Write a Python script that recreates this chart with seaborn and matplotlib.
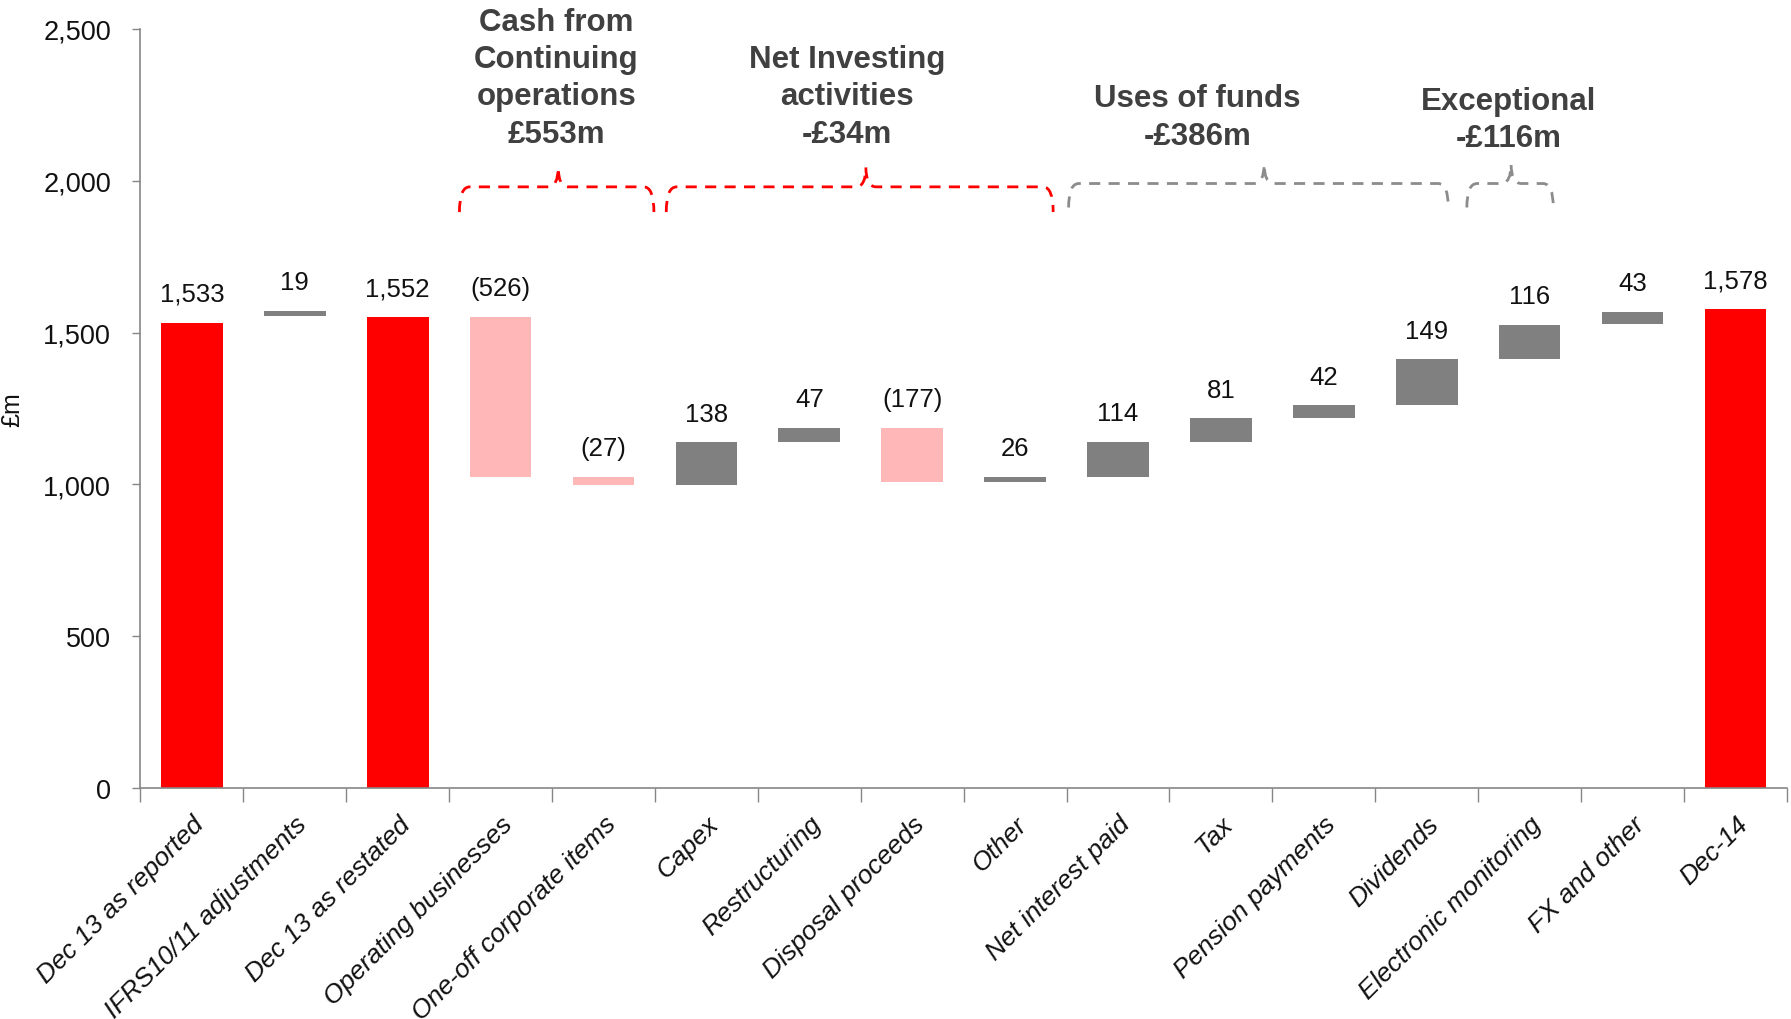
import numpy as np
import pandas as pd
import matplotlib
matplotlib.use("Agg")
import matplotlib.pyplot as plt
from matplotlib.path import Path
from matplotlib.patches import PathPatch
import seaborn as sns

sns.set_theme(style="white")
plt.rcParams['font.family'] = ['Liberation Sans', 'DejaVu Sans']

# --- data (£m) ---
categories = [
    "Dec 13 as reported", "IFRS10/11 adjustments", "Dec 13 as restated",
    "Operating businesses", "One-off corporate items", "Capex", "Restructuring",
    "Disposal proceeds", "Other", "Net interest paid", "Tax", "Pension payments",
    "Dividends", "Electronic monitoring", "FX and other", "Dec-14",
]
label_values = [1533, 19, 1552, -526, -27, 138, 47, -177, 26, 114, 81, 42, 149, 116, 43, 1578]
bar_low = [0, 1553, 0, 1024, 998, 998, 1140, 1008, 1008, 1024, 1140, 1218, 1260, 1412, 1527, 0]
bar_high = [1533, 1572, 1552, 1552, 1024, 1138, 1186, 1186, 1024, 1140, 1218, 1260, 1412, 1526, 1569, 1578]
kind = ["total", "up", "total", "down", "down", "up", "up", "down", "up",
        "up", "up", "up", "up", "up", "up", "total"]

groups = ["Cash from\nContinuing\noperations\n£553m", "Net Investing\nactivities\n-£34m",
          "Uses of funds\n-£386m", "Exceptional\n-£116m"]
group_span = [(3, 4), (5, 8), (9, 12), (13, 13)]

COLORS = {"total": "#FF0000", "down": "#FFB7B7", "up": "#808080"}
AX_GRAY = "#868686"

df = pd.DataFrame({"category": categories, "low": bar_low, "high": bar_high,
                   "label": label_values, "kind": kind})
df["height"] = df["high"] - df["low"]

fig = plt.figure(figsize=(17.91, 10.20), dpi=100)
ax = fig.add_axes([0.0784, 0.2265, 0.9193, 0.7441])

sns.barplot(data=df, x="category", y="height", order=categories, bottom=df["low"].values,
            width=0.6, errorbar=None, color="#808080", ax=ax, saturation=1)
for p, k in zip(ax.patches, df["kind"]):
    p.set_facecolor(COLORS[k])
    p.set_edgecolor("none")

# value labels
for i, row in df.iterrows():
    v = row["label"]
    txt = f"({abs(v):,})" if v < 0 else f"{v:,}"
    ax.annotate(txt, (i, row["high"]), xytext=(0, 12), textcoords="offset points",
                ha="center", va="bottom", fontsize=18.5, color="#111111")

# curly dashed braces over the groups
def brace(ax, x0, x1, xm, y_end, y_line, y_tip, color):
    r = 0.1
    verts = [(x0, y_end), (x0, y_line), (x0 + r, y_line),
             (xm - r, y_line), (xm, y_line), (xm, y_tip),
             (xm, y_line), (xm + r, y_line),
             (x1 - r, y_line), (x1, y_line), (x1, y_end)]
    codes = [Path.MOVETO, Path.CURVE3, Path.CURVE3,
             Path.LINETO, Path.CURVE3, Path.CURVE3,
             Path.CURVE3, Path.CURVE3,
             Path.LINETO, Path.CURVE3, Path.CURVE3]
    ax.add_patch(PathPatch(Path(verts, codes), fill=False, edgecolor=color, lw=2,
                           linestyle=(0, (4, 3)), clip_on=False))

brace_style = [
    (-0.4, 0.49, 3.56, 1897, 1980, 2044, "#FF0000"),
    (-0.39, 0.37, 6.55, 1897, 1980, 2044, "#FF0000"),
    (-0.48, 0.21, 10.42, 1912, 1991, 2055, "#8C8C8C"),
    (-0.61, 0.23, 12.82, 1912, 1991, 2055, "#8C8C8C"),
]
for (a, b), (dl, dr, tip, ye, yl, yt, col) in zip(group_span, brace_style):
    brace(ax, a + dl, b + dr, tip, ye, yl, yt, col)

group_pos = [(3.54, 2340), (6.37, 2278), (9.77, 2210), (12.80, 2202)]
for g, (gx, gy) in zip(groups, group_pos):
    ax.text(gx, gy, g, ha="center", va="center", fontsize=22.5, fontweight="bold",
            color="#404040", linespacing=1.32, clip_on=False)

# axes styling
ax.set_xlim(-0.5, len(categories) - 0.5)
ax.set_ylim(0, 2500)
ax.set_yticks(np.arange(0, 2501, 500))
ax.yaxis.set_major_formatter(matplotlib.ticker.FuncFormatter(lambda v, p: f"{int(v):,}"))
ax.tick_params(axis="y", labelsize=19.5, length=6, width=1, color=AX_GRAY, left=True,
               pad=15, labelcolor="#111111")
ax.set_xticks(range(len(categories)))
ax.set_xticklabels(categories, rotation=45, ha="right", rotation_mode="anchor",
                   fontsize=19, style="italic", color="#111111")
ax.tick_params(axis="x", which="major", length=0, pad=17)
ax.set_xticks(np.arange(-0.5, len(categories)), minor=True)
ax.tick_params(axis="x", which="minor", length=10, width=1, color=AX_GRAY, bottom=True)
ax.set_xlabel("")
ax.set_ylabel("£m", fontsize=18, color="#111111", labelpad=14)
for s in ["top", "right"]:
    ax.spines[s].set_visible(False)
for s in ["left", "bottom"]:
    ax.spines[s].set_color(AX_GRAY)
    ax.spines[s].set_linewidth(1.2)

fig.savefig("out.png", dpi=100)
